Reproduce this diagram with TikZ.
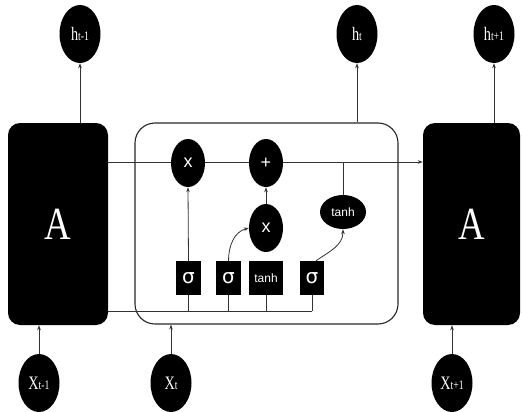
\documentclass[tikz,border=0pt]{standalone}
\usepackage{fontspec}
\setmainfont{Liberation Serif}
\newfontfamily\sansf{Liberation Sans}
\newfontfamily\symf{DejaVu Sans}
\usetikzlibrary{arrows.meta,shapes.geometric,calc}
\newcommand{\lbl}[2]{\scalebox{0.75}[1]{\fontsize{19}{19}\selectfont #1{\fontsize{13}{13}\selectfont #2}}}
\begin{document}
\begin{tikzpicture}[x=1pt,y=-1pt,
 blk/.style={rectangle,fill=black,rounded corners=12pt,draw=none,text=white,inner sep=0pt},
 lab/.style={ellipse,fill=black,text=white,minimum width=41pt,minimum height=58pt,inner sep=0pt},
 op/.style={ellipse,fill=black,text=white,minimum width=34pt,minimum height=48pt,inner sep=0pt,font=\sansf\fontsize{18}{18}\selectfont},
 gate/.style={rectangle,fill=black,text=white,minimum height=34pt,inner sep=0pt},
 ln/.style={draw=black!80,line width=0.8pt},
 arr/.style={ln,-{Stealth[length=5pt,width=3.5pt]}}]
\useasboundingbox (0,0) rectangle (522,412);
% blocks
\node[blk,minimum width=100pt,minimum height=202pt] (A1) at (58,224)
  {\scalebox{0.8}[1]{\fontsize{46}{46}\selectfont A}};
\node[blk,minimum width=97pt,minimum height=202pt] (A2) at (471.5,224)
  {\scalebox{0.8}[1]{\fontsize{46}{46}\selectfont A}};
\node[draw=black!85,line width=1.1pt,rounded corners=20pt,minimum width=263pt,minimum height=201pt] (cell) at (266.5,223.5) {};
% outputs and inputs
\node[lab] (hm) at (80,34) {\lbl{h}{t-1}};
\node[lab] (ht) at (357,34) {\lbl{h}{t}};
\node[lab] (hp) at (494,34) {\lbl{h}{t+1}};
\node[lab] (xm) at (39,383) {\lbl{X}{t-1}};
\node[lab] (xt) at (171,383) {\lbl{X}{t}};
\node[lab] (xp) at (452,383) {\lbl{X}{t+1}};
% cell state line
\draw[arr] (A1.east |- 0,162) -- (A2.west |- 0,162);
% ops
\node[op] (mul1) at (188,163) {x};
\node[op] (add) at (266,163) {+};
\node[op] (mul2) at (266,228) {x};
\node[op,minimum width=46pt,minimum height=34pt,font=\sansf\fontsize{12}{12}\selectfont] (tanhop) at (343,212) {tanh};
% gates
\node[gate,minimum width=25pt,font=\symf\fontsize{20}{20}\selectfont] (s1) at (188.5,278) {σ};
\node[gate,minimum width=25pt,font=\symf\fontsize{20}{20}\selectfont] (s2) at (228.5,278) {σ};
\node[gate,minimum width=34pt,font=\sansf\fontsize{12}{12}\selectfont] (tg) at (266,278) {tanh};
\node[gate,minimum width=24pt,font=\symf\fontsize{20}{20}\selectfont] (s3) at (312,278) {σ};
% input bus
\coordinate (bus) at (312,311);
\draw[ln] (A1.east |- bus) -- (bus);
\draw[ln] (s1.south) -- (s1 |- bus);
\draw[ln] (s2.south) -- (s2 |- bus);
\draw[ln] (tg.south) -- (tg |- bus);
\draw[ln] (s3.south) -- (bus);
% arrows
\draw[arr] (s1.north) -- (mul1.south);
\draw[arr] (mul2.north) -- (add.south);
\draw[arr] (s2.north) to[out=90,in=195] (mul2.west);
\draw[arr] ([xshift=4pt]s3.north) to[out=35,in=-90] (tanhop.south);
\draw[ln] (tanhop.north) -- (tanhop |- add);
% outer arrows
\draw[arr] (A1.north -| hm) -- (hm.south);
\draw[arr] (cell.north -| ht) -- (ht.south);
\draw[arr] (A2.north -| hp) -- (hp.south);
\draw[arr] (xm.north) -- (xm |- A1.south);
\draw[arr] (xt.north) -- (xt |- cell.south);
\draw[arr] (xp.north) -- (xp |- A2.south);
\end{tikzpicture}
\end{document}
